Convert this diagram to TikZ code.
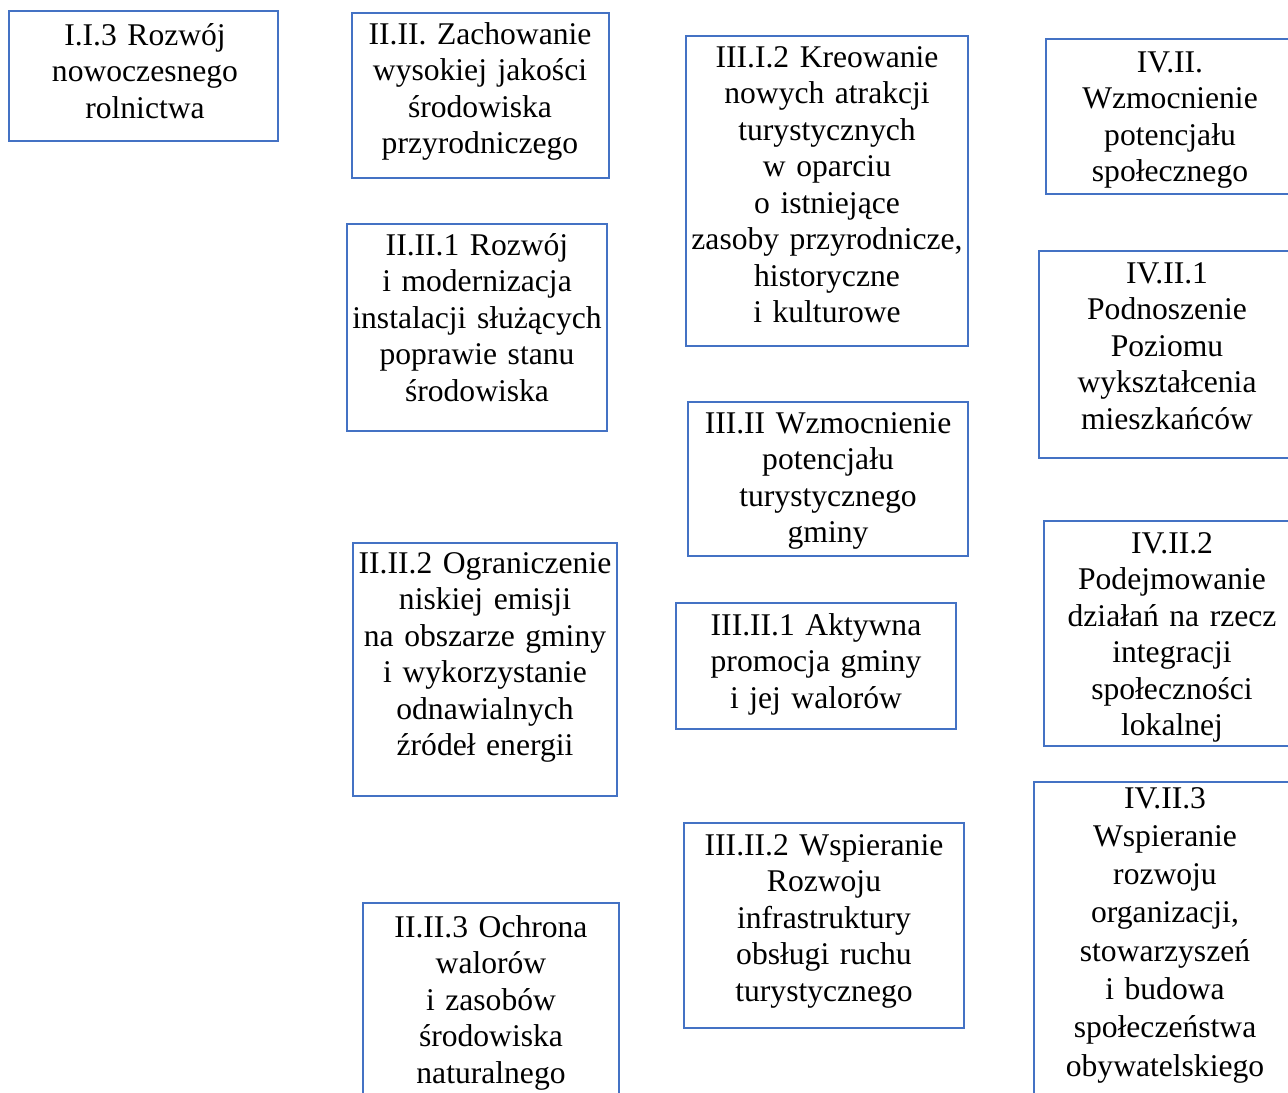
\documentclass[tikz,border=0pt]{standalone}
\usepackage{fontspec}
\setmainfont{Liberation Serif}
\usepackage{tikz}

\definecolor{frame}{RGB}{68,114,196}

\begin{document}
\begin{tikzpicture}[
        x=0.5pt, y=-0.5pt,
        box/.style={draw=frame, line width=1pt},
        goal/.style={anchor=base, text width=170pt, align=center, inner sep=0pt,
            font=\fontsize{15.8}{18.25}\selectfont},
        loose/.style={font=\fontsize{15.8}{19.15}\selectfont},
    ]
        \useasboundingbox (0, 0) rectangle (1288, 1092);
        \clip (0, 0) rectangle (1288, 1092);

        % column I
        \draw[box] (9, 11) rectangle (278, 141);
        \node[goal] (rolnictwo) at (145, 45) {I.I.3 Rozwój\\nowoczesnego\\rolnictwa};

        % column II
        \draw[box] (352, 13) rectangle (609, 178);
        \node[goal] (przyroda) at (480, 44) {II.II. Zachowanie\\wysokiej jakości\\środowiska\\przyrodniczego};

        \draw[box] (347, 224) rectangle (607, 431);
        \node[goal] (instalacje) at (477, 255) {II.II.1 Rozwój\\i modernizacja\\instalacji służących\\poprawie stanu\\środowiska};

        \draw[box] (353, 543) rectangle (617, 796);
        \node[goal] (emisja) at (485, 573) {II.II.2 Ograniczenie\\niskiej emisji\\na obszarze gminy\\i wykorzystanie\\odnawialnych\\źródeł energii};

        \draw[box] (363, 903) rectangle (619, 1110);
        \node[goal] (ochrona) at (491, 937) {II.II.3 Ochrona\\walorów\\i zasobów\\środowiska\\naturalnego};

        % column III
        \draw[box] (686, 36) rectangle (968, 346);
        \node[goal] (atrakcje) at (827, 67) {III.I.2 Kreowanie\\nowych atrakcji\\turystycznych\\w oparciu\\o istniejące\\zasoby przyrodnicze,\\historyczne\\i kulturowe};

        \draw[box] (688, 402) rectangle (968, 556);
        \node[goal] (turystyka) at (828, 433) {III.II Wzmocnienie\\potencjału\\turystycznego\\gminy};

        \draw[box] (676, 603) rectangle (956, 729);
        \node[goal] (promocja) at (816, 635) {III.II.1 Aktywna\\promocja gminy\\i jej walorów};

        \draw[box] (684, 823) rectangle (964, 1028);
        \node[goal] (obsluga) at (824, 855) {III.II.2 Wspieranie\\Rozwoju\\infrastruktury\\obsługi ruchu\\turystycznego};

        % column IV
        \draw[box] (1046, 39) rectangle (1300, 194);
        \node[goal] (spolecznosc) at (1170, 72) {IV.II.\\Wzmocnienie\\potencjału\\społecznego};

        \draw[box] (1039, 251) rectangle (1300, 458);
        \node[goal] (wyksztalcenie) at (1167, 283) {IV.II.1\\Podnoszenie\\Poziomu\\wykształcenia\\mieszkańców};

        \draw[box] (1044, 521) rectangle (1300, 746);
        \node[goal] (integracja) at (1172, 553) {IV.II.2\\Podejmowanie\\działań na rzecz\\integracji\\społeczności\\lokalnej};

        \draw[box] (1034, 782) rectangle (1300, 1110);
        \node[goal, loose] (organizacje) at (1165, 808) {IV.II.3\\Wspieranie\\rozwoju\\organizacji,\\stowarzyszeń\\i budowa\\społeczeństwa\\obywatelskiego};
\end{tikzpicture}
\end{document}
